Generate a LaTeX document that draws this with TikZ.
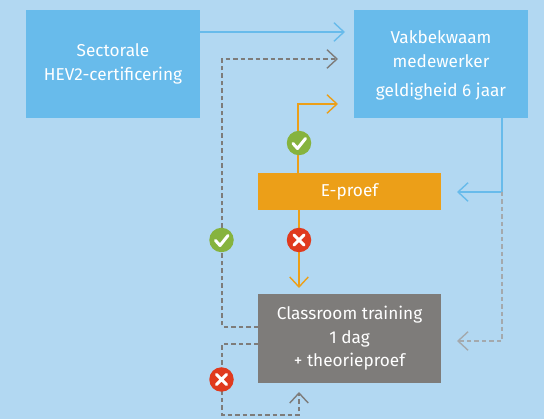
\documentclass[tikz,border=0pt]{standalone}
\usepackage{fontspec}
\setmainfont{Fira Sans}
\usetikzlibrary{arrows.meta}
\definecolor{bgc}{HTML}{B2D8F2}
\definecolor{bluec}{HTML}{68BBEB}
\definecolor{orangec}{HTML}{EC9F18}
\definecolor{grayc}{HTML}{7E7C7A}
\definecolor{lgrayc}{HTML}{A4A9AD}
\definecolor{greenc}{HTML}{86B33E}
\definecolor{redc}{HTML}{E03A1E}
\tikzset{
  x=1pt,y=-1pt,
  box/.style={inner sep=0pt,outer sep=0pt,minimum width=#1,text=white,align=center,font=\fontsize{17.2}{23.5}\selectfont},
  box/.default=174pt,
  chev/.tip={Straight Barb[length=10pt,width=18.5pt,line width=1.4pt]},
  conn/.style={line width=1.4pt,-chev},
  dashline/.style={dash pattern=on 4.5pt off 3pt},
  badge/.style={circle,minimum size=24.5pt,inner sep=0pt,outer sep=0pt},
  ok/.style={badge,fill=greenc,path picture={
    \draw[white,line width=3pt,line cap=round,line join=round]
      ([shift={(-6,0.5)}]path picture bounding box.center) -- ++(4.5,5) -- ++(8,-10);}},
  ko/.style={badge,fill=redc,path picture={
    \draw[white,line width=3pt,line cap=round]
      ([shift={(-5,-5)}]path picture bounding box.center) -- ++(10,10)
      ([shift={(5,-5)}]path picture bounding box.center) -- ++(-10,10);}},
}
\begin{document}
\begin{tikzpicture}
\useasboundingbox (0,0) rectangle (544,419);
\fill[bgc] (0,0) rectangle (544,419);
% boxes
\node[box,fill=bluec,minimum height=108pt] (sect) at (113,64) {Sectorale\\HEV2-certificering};
\node[box,fill=bluec,minimum height=108pt] (vak) at (441,64) {};
\node[box] (vakt1) at (441,37) {Vakbekwaam};
\node[box] (vakt2) at (441,61) {medewerker};
\node[box] (vakt3) at (441,92) {geldigheid 6 jaar};
\node[box=183pt,fill=orangec,minimum height=37pt] (eproef) at (349.5,191.5) {E-proef};
\node[box=183pt,fill=grayc,minimum height=89pt] (class) at (349.5,338.5) {Classroom training\\1 dag\\+ theorieproef};
% free ends
\coordinate (a1) at (345,32);
\coordinate (a2) at (338,59);
\coordinate (a3) at (338,104);
\coordinate (a4) at (457,192);
\coordinate (a5) at (457,341);
\coordinate (a6) at (299,288);
\coordinate (a7) at (299,392);
\coordinate (c1) at (222,327);
\coordinate (c2) at (222,344);
\coordinate (c3) at (222,415);
\coordinate (c4) at (298,173);
\coordinate (c5) at (502,118);
\coordinate (c6) at (502,192);
\coordinate (c7) at (502,341);
% connectors
\draw[conn,bluec] (sect.east |- a1) -- (a1);
\draw[conn,grayc,dashline] (class.west |- c1) -- (c1) -- (c1 |- a2) -- (a2);
\draw[conn,orangec] (c4) -- (c4 |- a3) -- (a3);
\draw[conn,bluec] (c5) -- (c6) -- (a4);
\draw[conn,lgrayc,dashline] (c6) -- (c7) -- (a5);
\draw[conn,orangec] (a6 |- eproef.south) -- (a6);
\draw[conn,grayc,dashline] (class.west |- c2) -- (c2) -- (c3) -- (c3 -| a7) -- (a7);
% badges
\node[ok] (b1) at (299,143) {};
\node[ok] (b2) at (221.5,240) {};
\node[ko] (b3) at (299,240) {};
\node[ko] (b4) at (221.5,379.5) {};
\end{tikzpicture}
\end{document}
